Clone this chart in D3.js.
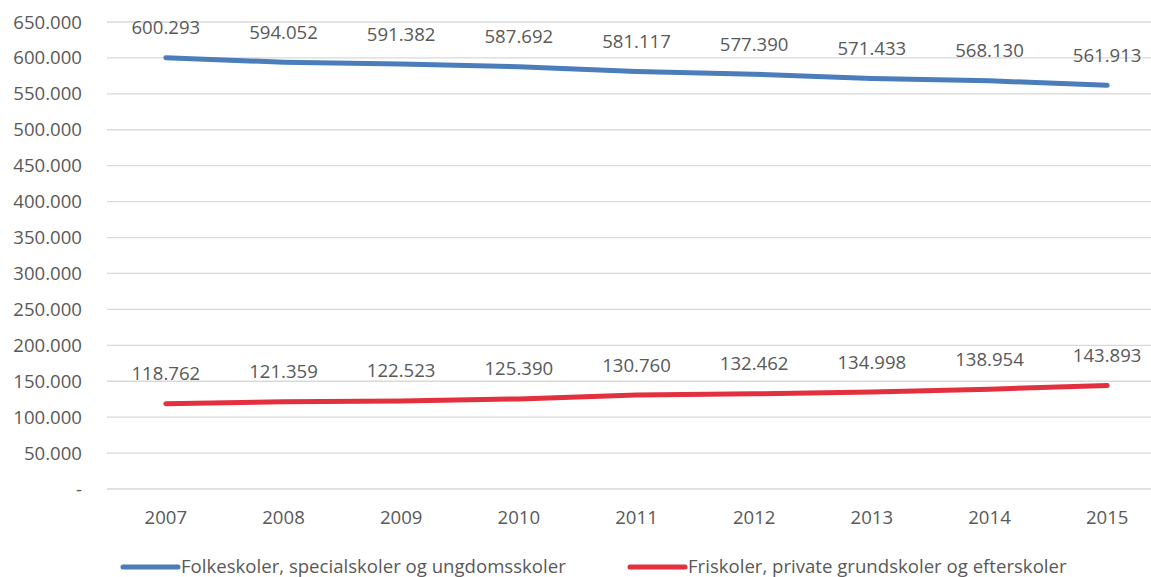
<!DOCTYPE html>
<html><head><meta charset="utf-8">
<script src="https://cdn.jsdelivr.net/npm/d3@7"></script>
<style>
html,body{margin:0;padding:0;background:#fff;}
svg text{font-family:"Open Sans",sans-serif;fill:#595959;}
</style></head>
<body>
<svg id="c" width="1151" height="577"></svg>
<script>
const years = ["2007","2008","2009","2010","2011","2012","2013","2014","2015"];
const folkeskoler = [600293,594052,591382,587692,581117,577390,571433,568130,561913];
const friskoler = [118762,121359,122523,125390,130760,132462,134998,138954,143893];
const yTicks = [0,50000,100000,150000,200000,250000,300000,350000,400000,450000,500000,550000,600000,650000];
const seriesNames = ["Folkeskoler, specialskoler og ungdomsskoler","Friskoler, private grundskoler og efterskoler"];
const seriesColors = ["#4a7dba","#e3303e"];

(function(){
const svg = d3.select("#c");
const FS = 18.6;
const pL = 107, pR = 1166, pT = 22, pB = 489;
const x = d3.scaleBand().domain(years).range([pL,pR]);
const y = d3.scaleLinear().domain([0,650000]).range([pB,pT]);
const fmt = v => v===0 ? "-" : d3.format(",")(v).replace(/,/g,".");

svg.append("g").selectAll("line").data(yTicks).join("line")
  .attr("x1",pL).attr("x2",1151)
  .attr("y1",d=>y(d)).attr("y2",d=>y(d))
  .attr("stroke","#d9d9d9").attr("stroke-width",1.3);

svg.append("g").selectAll("text").data(yTicks).join("text")
  .attr("x",82).attr("y",d=>y(d)).attr("dy","0.35em")
  .attr("text-anchor","end").attr("font-size",FS)
  .text(fmt);

svg.append("g").selectAll("text").data(years).join("text")
  .attr("x",d=>x(d)+x.bandwidth()/2).attr("y",517).attr("dy","0.35em")
  .attr("text-anchor","middle").attr("font-size",FS)
  .text(d=>d);

const line = d3.line().x((d,i)=>x(years[i])+x.bandwidth()/2).y(d=>y(d));
[folkeskoler,friskoler].forEach((s,k)=>{
  svg.append("path").datum(s).attr("d",line)
    .attr("fill","none").attr("stroke",seriesColors[k]).attr("stroke-width",5)
    .attr("stroke-linecap","round").attr("stroke-linejoin","round");
  svg.append("g").selectAll("text").data(s).join("text")
    .attr("x",(d,i)=>x(years[i])+x.bandwidth()/2)
    .attr("y",d=>y(d)-30).attr("dy","0.35em")
    .attr("text-anchor","middle").attr("font-size",FS)
    .text(fmt);
});

const legX = [123,630];
seriesNames.forEach((n,k)=>{
  svg.append("line").attr("x1",legX[k]).attr("x2",legX[k]+55)
    .attr("y1",567).attr("y2",567)
    .attr("stroke",seriesColors[k]).attr("stroke-width",5).attr("stroke-linecap","round");
  svg.append("text").attr("x",legX[k]+58).attr("y",566).attr("dy","0.35em")
    .attr("font-size",FS).text(n);
});
})();
</script>
</body></html>
